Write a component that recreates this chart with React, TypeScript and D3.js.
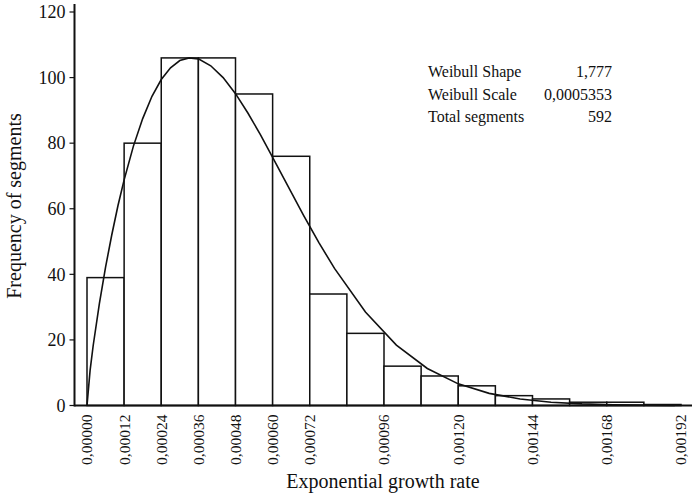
import React from 'react';
import * as d3 from 'd3';

// histogram of growth rates, bin width 0.00012
const binStarts = [
  0, 0.00012, 0.00024, 0.00036, 0.00048, 0.0006, 0.00072, 0.00084,
  0.00096, 0.00108, 0.0012, 0.00132, 0.00144, 0.00156, 0.00168, 0.0018,
];
const binCounts = [39, 80, 106, 106, 95, 76, 34, 22, 12, 9, 6, 3, 2, 1, 1, 0.3];
const binWidth = 0.00012;

// fitted curve
const curveX = [
  0, 0.00001, 0.00002, 0.00004, 0.00006, 0.00008, 0.0001, 0.00012, 0.00015,
  0.00018, 0.00021, 0.00024, 0.00027, 0.0003, 0.00033, 0.00036, 0.0004,
  0.00044, 0.00048, 0.00052, 0.00056, 0.0006, 0.00065, 0.0007, 0.00075,
  0.0008, 0.0009, 0.001, 0.0011, 0.0012, 0.0013, 0.0014, 0.0015, 0.0016,
  0.0017, 0.0018, 0.0019,
];
const curveY = [
  0, 10.7, 18.3, 31.1, 42.2, 52.0, 60.9, 68.8, 79.1, 87.5, 94.3, 99.4, 103.0,
  105.2, 106.0, 105.7, 103.6, 100.0, 95.1, 89.2, 82.7, 75.7, 66.8, 58.0, 49.6,
  41.8, 28.5, 18.4, 11.3, 6.6, 3.7, 2.0, 1.0, 0.5, 0.24, 0.11, 0.05,
];

const xTicks = [
  0, 0.00012, 0.00024, 0.00036, 0.00048, 0.0006, 0.00072, 0.00096, 0.0012,
  0.00144, 0.00168, 0.00192,
];
const yTicks = [0, 20, 40, 60, 80, 100, 120];

const statLabels = ['Weibull Shape', 'Weibull Scale', 'Total segments'];
const statValues = ['1,777', '0,0005353', '592'];

const width = 692;
const height = 495;
const font = '"Liberation Serif", "Times New Roman", serif';

const App: React.FC = () => {
  const xScale = d3.scaleLinear().domain([0, 0.00192]).range([87, 681]);
  const yScale = d3.scaleLinear().domain([0, 120]).range([405.5, 12]);

  const axisLeft = 74.5;
  const axisBottom = yScale(0);

  const fmt = (v: number) => v.toFixed(5).replace('.', ',');

  const line = d3.line<number>()
    .x((_, i) => xScale(curveX[i]))
    .y(d => yScale(d));

  return (
    <div style={{ position: 'absolute', left: 0, top: 0 }}>
      <svg width={width} height={height} style={{ display: 'block', background: '#fff' }} fontFamily={font}>
        {binStarts.map((s, i) => (
          <rect
            key={i}
            x={xScale(s)}
            y={yScale(binCounts[i])}
            width={xScale(s + binWidth) - xScale(s)}
            height={axisBottom - yScale(binCounts[i])}
            fill="#fff"
            stroke="#111"
            strokeWidth={1.5}
          />
        ))}

        <path d={line(curveY) ?? ''} fill="none" stroke="#111" strokeWidth={1.6} />

        {/* axes */}
        <line x1={axisLeft} x2={axisLeft} y1={4} y2={axisBottom + 1} stroke="#111" strokeWidth={2} />
        <line x1={axisLeft} x2={width} y1={axisBottom} y2={axisBottom} stroke="#111" strokeWidth={2} />

        {yTicks.map(t => (
          <g key={t} transform={`translate(0,${yScale(t)})`}>
            <line x1={axisLeft - 5} x2={axisLeft} stroke="#111" strokeWidth={1.2} />
            <text x={axisLeft - 9} dy="0.35em" textAnchor="end" fontSize={18} fill="#111">{t}</text>
          </g>
        ))}

        {xTicks.map(t => (
          <text
            key={t}
            transform={`translate(${xScale(t)},${axisBottom + 9}) rotate(-90)`}
            textAnchor="end"
            dy="0.35em"
            fontSize={15.5}
            fill="#111"
          >
            {fmt(t)}
          </text>
        ))}

        <text x={383} y={488} textAnchor="middle" fontSize={20} fill="#111">Exponential growth rate</text>
        <text transform="translate(21,206) rotate(-90)" textAnchor="middle" fontSize={20} fill="#111">Frequency of segments</text>

        {statLabels.map((l, i) => (
          <g key={l}>
            <text x={428} y={77 + i * 22.5} fontSize={16} fill="#111">{l}</text>
            <text x={612} y={77 + i * 22.5} fontSize={16} textAnchor="end" fill="#111">{statValues[i]}</text>
          </g>
        ))}
      </svg>
    </div>
  );
};

export default App;
